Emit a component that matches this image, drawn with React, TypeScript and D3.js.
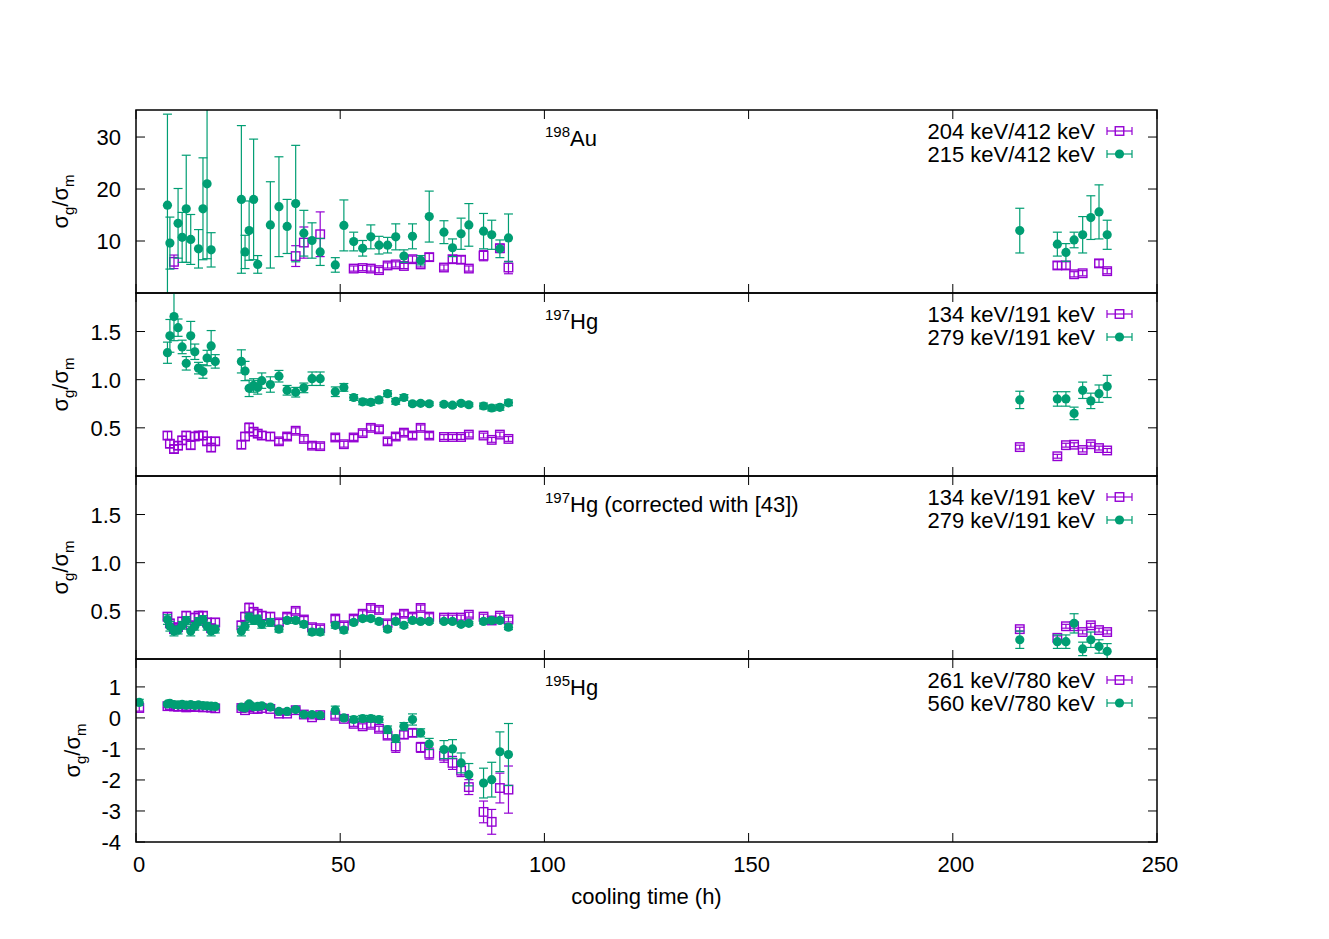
import React from "react";
import * as d3 from "d3";

// ---------- data ----------
const times = [
  7.7, 8.3, 9.3, 10.3, 11.3, 12.3, 13.4, 14.4, 15.3, 16.4, 17.4, 18.4, 19.4,
  25.8, 26.7, 27.7, 28.8, 29.8, 30.8, 32.9, 35.0, 37.0, 39.1, 41.1, 43.1, 45.1,
  48.8, 50.9, 53.3, 55.5, 57.5, 59.5, 61.6, 63.6, 65.6, 67.7, 69.7, 71.8,
  75.4, 77.5, 79.6, 81.5,
  85.1, 87.1, 89.1, 91.2,
  216.4, 225.6, 227.7, 229.7, 231.8, 233.8, 235.8, 237.8,
];

const times195 = [
  0.8,
  7.7, 8.3, 9.3, 10.3, 11.3, 12.3, 13.4, 14.4, 15.3, 16.4, 17.4, 18.4, 19.4,
  25.8, 26.7, 27.7, 28.8, 29.8, 30.8, 32.9, 35.0, 37.0, 39.1, 41.1, 43.1, 45.1,
  48.8, 50.9, 53.3, 55.5, 57.5, 59.5, 61.6, 63.6, 65.6, 67.7, 69.7, 71.8,
  75.4, 77.5, 79.6, 81.5,
  85.1, 87.1, 89.1, 91.2,
];

// 198Au
const au204V = [
  null, null, 6.0, null, null, null, null, null, null, null, null, null, null,
  null, null, null, null, null, null, null, null, null, 7.1, 9.7, null, 11.3,
  null, null, 4.7, 4.8, 4.7, 4.4, 5.3, 5.5, 5.2, 6.5, 5.5, 6.9,
  4.9, 6.5, 6.4, 4.7,
  7.2, null, 8.6, 4.9,
  null, 5.3, 5.3, 3.6, 3.8, null, 5.7, 4.2,
];
const au204E = [
  0, 0, 1.3, 0, 0, 0, 0, 0, 0, 0, 0, 0, 0,
  0, 0, 0, 0, 0, 0, 0, 0, 0, 2.0, 3.0, 0, 4.3,
  0, 0, 0.5, 0.5, 0.5, 0.5, 0.5, 0.5, 0.5, 0.6, 0.5, 0.7,
  0.5, 0.7, 0.7, 0.5,
  1.0, 0, 0.8, 1.2,
  0, 0.7, 0.7, 0.5, 0.5, 0, 0.7, 0.5,
];
const au215V = [
  16.9, 9.6, null, 13.4, 10.7, 16.2, 10.3, null, 8.5, 16.2, 21.0, 8.3, null,
  18.0, 7.9, 12.0, 18.0, 5.5, null, 13.1, 16.6, 12.8, 17.2, 11.5, 10.1, 7.9,
  5.4, 13.0, 9.9, 8.6, 10.8, 9.2, 9.2, 10.8, 7.1, 10.9, 6.3, 14.7,
  11.7, 8.7, 11.4, 13.1,
  11.9, 11.2, 8.5, 10.6,
  12.0, 9.4, 7.8, 10.2, 11.2, 14.5, 15.6, 11.2,
];
const au215E = [
  17.5, 5.0, 0, 6.7, 4.8, 10.3, 4.8, 0, 3.7, 9.8, 14.4, 3.3, 0,
  14.2, 3.2, 5.7, 11.6, 1.7, 0, 8.3, 9.6, 5.2, 11.2, 4.4, 3.4, 2.6,
  1.4, 4.9, 1.8, 1.5, 2.3, 1.7, 1.5, 2.5, 1.2, 2.4, 0.9, 4.9,
  2.2, 1.7, 3.0, 4.1,
  3.4, 2.8, 1.7, 4.6,
  4.3, 2.3, 1.7, 1.5, 3.5, 4.2, 5.2, 2.8,
];

// 197Hg
const hg134V = [
  0.42, 0.335, 0.28, 0.315, 0.37, 0.42, 0.32, 0.41, 0.42, 0.42, 0.36, 0.295, 0.36,
  0.325, 0.41, 0.50, 0.46, 0.44, 0.42, 0.41, 0.36, 0.41, 0.47, 0.385, 0.315, 0.31,
  0.40, 0.33, 0.40, 0.445, 0.50, 0.485, 0.36, 0.41, 0.45, 0.42, 0.50, 0.42,
  0.405, 0.405, 0.405, 0.43,
  0.42, 0.375, 0.43, 0.385,
  0.30, 0.205, 0.32, 0.325, 0.27, 0.33, 0.29, 0.265,
];
const hg134E = [
  0.04, 0.04, 0.04, 0.04, 0.04, 0.04, 0.04, 0.04, 0.04, 0.04, 0.04, 0.04, 0.04,
  0.04, 0.04, 0.05, 0.04, 0.04, 0.04, 0.04, 0.03, 0.03, 0.03, 0.03, 0.03, 0.03,
  0.03, 0.03, 0.03, 0.03, 0.03, 0.03, 0.03, 0.03, 0.03, 0.03, 0.03, 0.03,
  0.025, 0.025, 0.025, 0.025,
  0.025, 0.025, 0.025, 0.025,
  0.02, 0.02, 0.02, 0.02, 0.02, 0.02, 0.02, 0.02,
];
const hg279V = [
  1.28, 1.455, 1.655, 1.54, 1.34, 1.17, 1.455, 1.29, 1.12, 1.085, 1.225, 1.35, 1.19,
  1.19, 1.09, 0.91, 0.94, 0.92, 0.99, 0.95, 1.036, 0.89, 0.87, 0.915, 1.01, 1.01,
  0.875, 0.92, 0.815, 0.77, 0.765, 0.79, 0.855, 0.775, 0.815, 0.75, 0.755, 0.75,
  0.745, 0.735, 0.755, 0.74,
  0.727, 0.706, 0.713, 0.76,
  0.79, 0.80, 0.80, 0.65, 0.89, 0.78, 0.855, 0.93,
];
const hg279E = [
  0.11, 0.17, 0.25, 0.09, 0.07, 0.07, 0.15, 0.08, 0.06, 0.07, 0.08, 0.16, 0.07,
  0.12, 0.10, 0.085, 0.07, 0.07, 0.08, 0.08, 0.06, 0.05, 0.05, 0.05, 0.07, 0.07,
  0.05, 0.04, 0.03, 0.03, 0.03, 0.03, 0.03, 0.03, 0.03, 0.02, 0.02, 0.02,
  0.02, 0.02, 0.02, 0.02,
  0.03, 0.03, 0.03, 0.03,
  0.09, 0.075, 0.075, 0.065, 0.085, 0.08, 0.09, 0.115,
];

// 197Hg corrected
const hgc134V = [
  0.44, 0.37, 0.31, 0.33, 0.39, 0.45, 0.35, 0.43, 0.45, 0.45, 0.38, 0.32, 0.38,
  0.35, 0.44, 0.53, 0.49, 0.47, 0.45, 0.44, 0.38, 0.44, 0.50, 0.41, 0.33, 0.32,
  0.42, 0.35, 0.42, 0.47, 0.53, 0.51, 0.37, 0.43, 0.47, 0.44, 0.53, 0.44,
  0.43, 0.43, 0.43, 0.46,
  0.44, 0.40, 0.45, 0.41,
  0.31, 0.22, 0.34, 0.34, 0.28, 0.35, 0.30, 0.28,
];
const hgc134E = hg134E;
const hgc279V = [
  0.41, 0.34, 0.29, 0.30, 0.35, 0.40, 0.29, 0.34, 0.39, 0.41, 0.34, 0.29, 0.31,
  0.29, 0.34, 0.435, 0.40, 0.415, 0.36, 0.38, 0.31, 0.40, 0.40, 0.36, 0.28, 0.28,
  0.35, 0.30, 0.38, 0.42, 0.42, 0.39, 0.31, 0.39, 0.35, 0.40, 0.39, 0.39,
  0.39, 0.39, 0.36, 0.37,
  0.39, 0.40, 0.40, 0.33,
  0.20, 0.18, 0.18, 0.37, 0.105, 0.20, 0.13, 0.08,
];
const hgc279E = [
  0.05, 0.05, 0.05, 0.04, 0.04, 0.04, 0.05, 0.04, 0.04, 0.04, 0.04, 0.05, 0.04,
  0.05, 0.04, 0.04, 0.04, 0.04, 0.04, 0.04, 0.03, 0.03, 0.03, 0.03, 0.03, 0.03,
  0.03, 0.03, 0.025, 0.025, 0.025, 0.025, 0.025, 0.025, 0.025, 0.02, 0.02, 0.02,
  0.02, 0.02, 0.02, 0.02,
  0.025, 0.025, 0.025, 0.025,
  0.09, 0.07, 0.07, 0.10, 0.07, 0.08, 0.07, 0.08,
];

// 195Hg
const hg261V = [
  0.32,
  0.38, 0.40, 0.37, 0.36, 0.38, 0.34, 0.37, 0.35, 0.36, 0.34, 0.35, 0.33, 0.31,
  0.32, 0.25, 0.34, 0.29, 0.29, 0.32, 0.29, 0.14, 0.14, 0.25, 0.11, 0.02, 0.09,
  0.07, -0.03, -0.19, -0.27, -0.22, -0.35, -0.57, -0.92, -0.54, -0.48, -0.95, -1.15,
  -1.22, -1.45, -1.70, -2.23,
  -3.03, -3.35, -2.26, -2.31,
];
const hg261E = [
  0.1,
  0.05, 0.05, 0.05, 0.05, 0.05, 0.05, 0.05, 0.05, 0.05, 0.05, 0.05, 0.05, 0.05,
  0.05, 0.05, 0.05, 0.05, 0.05, 0.05, 0.05, 0.05, 0.05, 0.05, 0.05, 0.05, 0.05,
  0.08, 0.06, 0.08, 0.08, 0.08, 0.08, 0.1, 0.19, 0.12, 0.12, 0.16, 0.18,
  0.21, 0.21, 0.19, 0.24,
  0.35, 0.4, 0.48, 0.76,
];
const hg560V = [
  0.50,
  0.45, 0.47, 0.43, 0.42, 0.44, 0.41, 0.43, 0.40, 0.42, 0.40, 0.39, 0.38, 0.37,
  0.35, 0.32, 0.45, 0.36, 0.37, 0.39, 0.35, 0.21, 0.21, 0.27, 0.11, 0.11, 0.09,
  0.25, 0.00, -0.05, -0.02, -0.02, -0.05, -0.38, -0.67, -0.27, -0.05, -0.48, -0.84,
  -1.02, -1.00, -1.45, -1.83,
  -2.10, -1.99, -1.09, -1.18,
];
const hg560E = [
  0.1,
  0.05, 0.05, 0.05, 0.05, 0.05, 0.05, 0.05, 0.05, 0.05, 0.05, 0.05, 0.05, 0.05,
  0.05, 0.05, 0.06, 0.05, 0.05, 0.05, 0.05, 0.05, 0.05, 0.06, 0.06, 0.06, 0.06,
  0.13, 0.08, 0.1, 0.1, 0.1, 0.1, 0.12, 0.12, 0.12, 0.18, 0.13, 0.18,
  0.29, 0.30, 0.32, 0.36,
  0.48, 0.56, 0.64, 1.0,
];

const xTicks = [0, 50, 100, 150, 200, 250];
const panelTitles = ["Au", "Hg", "Hg (corrected with [43])", "Hg"];
const panelMass = ["198", "197", "197", "195"];
const legendPurple = ["204 keV/412 keV", "134 keV/191 keV", "134 keV/191 keV", "261 keV/780 keV"];
const legendGreen = ["215 keV/412 keV", "279 keV/191 keV", "279 keV/191 keV", "560 keV/780 keV"];
const yDomains = [[0, 35.2], [0, 1.9], [0, 1.9], [-4, 1.9]];
const yTicks = [[10, 20, 30], [0.5, 1.0, 1.5], [0.5, 1.0, 1.5], [1, 0, -1, -2, -3, -4]];
const yTickDecimals = [0, 1, 1, 0];

// ---------- layout ----------
const W = 1329;
const H = 939;
const X0 = 136;
const X1 = 1157;
const PANEL_TOP = 110;
const PH = 183;
const PURPLE = "#9400d3";
const GREEN = "#009e73";
const FONT = "'Liberation Sans', Arial, Helvetica, sans-serif";
const FS = 22;
const FS_SMALL = 15;
const TICK = 9;
const CAP = 4.5;

type Pt = { t: number; v: number; e: number };
const mk = (ts: number[], vs: (number | null)[], es: number[]): Pt[] =>
  ts.map((t, i) => ({ t, v: vs[i] as number, e: es[i] })).filter((d) => d.v !== null && d.v !== undefined);

const panelSeries: [Pt[], Pt[]][] = [
  [mk(times, au204V, au204E), mk(times, au215V, au215E)],
  [mk(times, hg134V, hg134E), mk(times, hg279V, hg279E)],
  [mk(times, hgc134V, hgc134E), mk(times, hgc279V, hgc279E)],
  [mk(times195, hg261V, hg261E), mk(times195, hg560V, hg560E)],
];

const x = d3.scaleLinear().domain([0, 250]).range([X0, X1]);

function Square({ cx, cy, color }: { cx: number; cy: number; color: string }) {
  const s = 8.5;
  return <rect x={cx - s / 2} y={cy - s / 2} width={s} height={s} fill="none" stroke={color} strokeWidth={1.4} />;
}

function ErrBar({ cx, y1, y2, color }: { cx: number; y1: number; y2: number; color: string }) {
  return (
    <g stroke={color} strokeWidth={1.2}>
      <line x1={cx} x2={cx} y1={y1} y2={y2} />
      <line x1={cx - CAP} x2={cx + CAP} y1={y1} y2={y1} />
      <line x1={cx - CAP} x2={cx + CAP} y1={y2} y2={y2} />
    </g>
  );
}

function Panel({ k }: { k: number }) {
  const top = PANEL_TOP + k * PH;
  const bottom = top + PH;
  const y = d3.scaleLinear().domain(yDomains[k]).range([bottom, top]);
  const fmt = (v: number) => v.toFixed(yTickDecimals[k]);
  const [purple, green] = panelSeries[k];
  const clipId = `clip${k}`;
  const ly1 = top + 21;
  const ly2 = top + 44;
  const labelX = k === 3 ? 80 : 68;
  return (
    <g>
      <defs>
        <clipPath id={clipId}>
          <rect x={X0} y={top} width={X1 - X0} height={PH} />
        </clipPath>
      </defs>
      {/* ticks */}
      <g stroke="#000" strokeWidth={1}>
        {yTicks[k].map((v) => (
          <g key={"yt" + v}>
            <line x1={X0} x2={X0 + TICK} y1={y(v)} y2={y(v)} />
            <line x1={X1} x2={X1 - TICK} y1={y(v)} y2={y(v)} />
          </g>
        ))}
        {xTicks.map((v) => (
          <g key={"xt" + v}>
            <line x1={x(v)} x2={x(v)} y1={bottom} y2={bottom - TICK} />
            <line x1={x(v)} x2={x(v)} y1={top} y2={top + TICK} />
          </g>
        ))}
      </g>
      {yTicks[k].map((v) => (
        <text key={"yl" + v} x={X0 - 15} y={y(v) + 8} textAnchor="end" fontSize={FS} fontFamily={FONT}>
          {fmt(v)}
        </text>
      ))}
      {/* y label */}
      <text
        transform={`translate(${labelX},${(top + bottom) / 2}) rotate(-90)`}
        textAnchor="middle"
        fontSize={FS}
        fontFamily={FONT}
      >
        σ<tspan fontSize={FS_SMALL} dy={6}>g</tspan>
        <tspan dy={-6}>/σ</tspan>
        <tspan fontSize={FS_SMALL} dy={6}>m</tspan>
      </text>
      {/* title */}
      <text x={545} y={top + 36} fontSize={FS} fontFamily={FONT}>
        <tspan fontSize={FS_SMALL} dy={-9}>{panelMass[k]}</tspan>
        <tspan dy={9}>{panelTitles[k]}</tspan>
      </text>
      {/* data */}
      <g clipPath={`url(#${clipId})`}>
        {purple.map((d, i) => (
          <ErrBar key={"pe" + i} cx={x(d.t)} y1={y(d.v + d.e)} y2={y(d.v - d.e)} color={PURPLE} />
        ))}
        {purple.map((d, i) => (
          <Square key={"pp" + i} cx={x(d.t)} cy={y(d.v)} color={PURPLE} />
        ))}
        {green.map((d, i) => (
          <ErrBar key={"ge" + i} cx={x(d.t)} y1={y(d.v + d.e)} y2={y(d.v - d.e)} color={GREEN} />
        ))}
        {green.map((d, i) => (
          <circle key={"gp" + i} cx={x(d.t)} cy={y(d.v)} r={4.6} fill={GREEN} />
        ))}
      </g>
      {/* legend */}
      <text x={1095} y={ly1 + 8} textAnchor="end" fontSize={FS} fontFamily={FONT}>
        {legendPurple[k]}
      </text>
      <text x={1095} y={ly2 + 8} textAnchor="end" fontSize={FS} fontFamily={FONT}>
        {legendGreen[k]}
      </text>
      <g stroke={PURPLE} strokeWidth={1.2}>
        <line x1={1107} x2={1132} y1={ly1} y2={ly1} />
        <line x1={1107} x2={1107} y1={ly1 - 4} y2={ly1 + 4} />
        <line x1={1132} x2={1132} y1={ly1 - 4} y2={ly1 + 4} />
      </g>
      <Square cx={1119.5} cy={ly1} color={PURPLE} />
      <g stroke={GREEN} strokeWidth={1.2}>
        <line x1={1107} x2={1132} y1={ly2} y2={ly2} />
        <line x1={1107} x2={1107} y1={ly2 - 4} y2={ly2 + 4} />
        <line x1={1132} x2={1132} y1={ly2 - 4} y2={ly2 + 4} />
      </g>
      <circle cx={1119.5} cy={ly2} r={4.6} fill={GREEN} />
      {/* frame */}
      <rect x={X0} y={top} width={X1 - X0} height={PH} fill="none" stroke="#000" strokeWidth={1.5} />
    </g>
  );
}

export default function App() {
  const bottom = PANEL_TOP + 4 * PH;
  return (
    <svg width={W} height={H} style={{ display: "block", position: "absolute", left: 0, top: 0, background: "#fff" }}>
      <rect width={W} height={H} fill="#fff" />
      {[0, 1, 2, 3].map((k) => (
        <Panel key={k} k={k} />
      ))}
      {xTicks.map((v) => (
        <text key={"xl" + v} x={x(v) + 3} y={bottom + 30} textAnchor="middle" fontSize={FS} fontFamily={FONT}>
          {v}
        </text>
      ))}
      <text x={(X0 + X1) / 2} y={bottom + 62} textAnchor="middle" fontSize={FS} fontFamily={FONT}>
        cooling time (h)
      </text>
    </svg>
  );
}
